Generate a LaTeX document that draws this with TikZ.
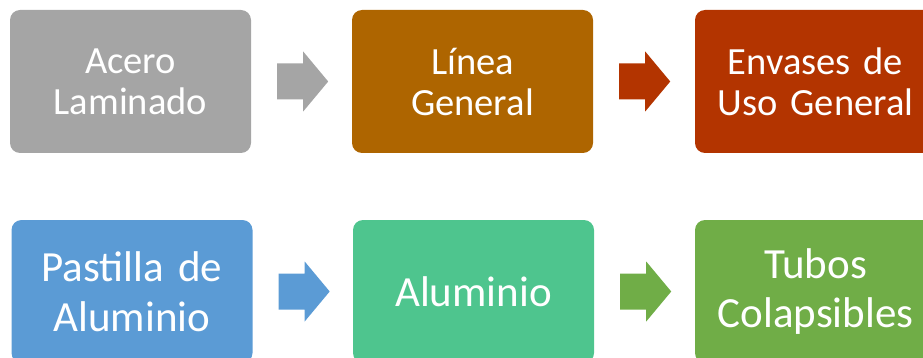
\documentclass[tikz,border=0pt]{standalone}
\usepackage{fontspec}
\setmainfont{Carlito}
\usetikzlibrary{calc}
\definecolor{cgray}{HTML}{A5A5A5}
\definecolor{cbrown}{HTML}{AE6500}
\definecolor{cred}{HTML}{B33400}
\definecolor{cblue}{HTML}{5B9BD5}
\definecolor{cteal}{HTML}{4EC58E}
\definecolor{cgreen}{HTML}{70AD47}
\tikzset{
  card/.style={rounded corners=10pt, minimum width=241pt, minimum height=143pt,
    inner sep=0pt, text=white, align=center, text width=239pt},
  rowone/.style={card, font=\fontsize{38.5}{41}\selectfont},
  rowtwo/.style={card, font=\fontsize{43}{49.5}\selectfont},
}
\newcommand{\blockarrow}[3]{% from node east, colour
  \fill[#3] ($(#1.east)+(26pt,-18pt)$) -- ++(26pt,0) -- ++(0,-12pt) -- ++(25pt,30pt)
    -- ++(-25pt,30pt) -- ++(0,-12pt) -- ++(-26pt,0) -- cycle;}
\begin{document}
\begin{tikzpicture}[x=1pt,y=-1pt]
\useasboundingbox (0,0) rectangle (923,358);
\clip (0,0) rectangle (923,358);
\node[rowone, fill=cgray]  (a) at (130.5,81.5) {Acero\\Laminado};
\node[rowone, fill=cbrown] (b) at (472.5,81.5) {Línea\\General};
\node[rowone, fill=cred]   (c) at (815.5,81.5) {Envases de\\Uso General};
\node[rowtwo, fill=cblue]  (d) at (132,291.5) {Pastilla de\\Aluminio};
\node[rowtwo, fill=cteal]  (e) at (473.5,291.5) {Aluminio};
\node[rowtwo, fill=cgreen] (f) at (815.5,291.5) {Tubos\\Colapsibles};
\blockarrow{a}{b}{cgray}
\blockarrow{b}{c}{cred}
\blockarrow{d}{e}{cblue}
\blockarrow{e}{f}{cgreen}
\end{tikzpicture}
\end{document}
